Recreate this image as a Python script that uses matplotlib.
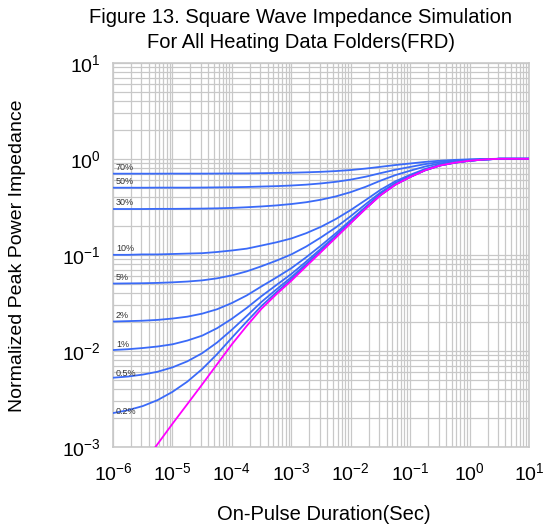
"""
Square wave impedance curves (duty-cycle family + single pulse), log-log.
Values read off the reference figure at quarter-decade steps.
"""

import matplotlib
matplotlib.use("Agg")
import matplotlib.pyplot as plt

plt.rcParams["font.family"] = ["Liberation Sans", "DejaVu Sans"]
plt.rcParams["mathtext.default"] = "regular"

# on-pulse duration (s), quarter-decade steps
t_sec = [1e-6, 1.78e-6, 3.16e-6, 5.62e-6,
         1e-5, 1.78e-5, 3.16e-5, 5.62e-5,
         1e-4, 1.78e-4, 3.16e-4, 5.62e-4,
         1e-3, 1.78e-3, 3.16e-3, 5.62e-3,
         1e-2, 1.78e-2, 3.16e-2, 5.62e-2,
         1e-1, 1.78e-1, 3.16e-1, 5.62e-1,
         1.0, 1.78, 3.16, 5.62, 10.0]

duty_labels = ["70%", "50%", "30%", "10%", "5%", "2%", "1%", "0.5%", "0.2%"]
duty_levels = [0.7, 0.5, 0.3, 0.1, 0.05, 0.02, 0.01, 0.005, 0.002]

z_70 = [0.700, 0.700, 0.700, 0.700, 0.701, 0.701, 0.701, 0.702, 0.704, 0.705,
        0.708, 0.712, 0.716, 0.723, 0.732, 0.745, 0.764, 0.791, 0.825, 0.861,
        0.894, 0.928, 0.955, 0.974, 0.987, 0.995, 1.0, 1.0, 1.0]
z_50 = [0.500, 0.500, 0.500, 0.501, 0.501, 0.501, 0.502, 0.504, 0.506, 0.509,
        0.514, 0.519, 0.527, 0.538, 0.554, 0.576, 0.607, 0.651, 0.709, 0.769,
        0.823, 0.880, 0.926, 0.956, 0.978, 0.992, 1.0, 1.0, 1.0]
z_30 = [0.300, 0.300, 0.300, 0.301, 0.301, 0.302, 0.303, 0.305, 0.308, 0.313,
        0.319, 0.327, 0.338, 0.353, 0.375, 0.406, 0.450, 0.511, 0.592, 0.676,
        0.752, 0.831, 0.896, 0.938, 0.969, 0.989, 1.0, 1.0, 1.0]
z_10 = [0.100, 0.100, 0.101, 0.101, 0.102, 0.103, 0.104, 0.107, 0.111, 0.116,
        0.125, 0.135, 0.148, 0.168, 0.196, 0.236, 0.293, 0.372, 0.475, 0.583,
        0.681, 0.783, 0.866, 0.921, 0.960, 0.986, 1.0, 1.0, 1.0]
z_5 = [0.0502, 0.0504, 0.0506, 0.0510, 0.0517, 0.0527, 0.0542, 0.0569, 0.0611, 0.0673,
       0.0761, 0.0870, 0.101, 0.122, 0.152, 0.193, 0.253, 0.337, 0.446, 0.560,
       0.664, 0.771, 0.858, 0.916, 0.957, 0.985, 1.0, 1.0, 1.0]
z_2 = [0.0202, 0.0204, 0.0206, 0.0210, 0.0217, 0.0227, 0.0244, 0.0271, 0.0315, 0.0378,
       0.0470, 0.0581, 0.0726, 0.0944, 0.125, 0.168, 0.230, 0.316, 0.429, 0.546,
       0.653, 0.764, 0.854, 0.914, 0.956, 0.984, 1.0, 1.0, 1.0]
z_1 = [0.0102, 0.0104, 0.0107, 0.0111, 0.0117, 0.0128, 0.0144, 0.0172, 0.0216, 0.0280,
       0.0372, 0.0485, 0.0632, 0.0851, 0.116, 0.159, 0.222, 0.309, 0.423, 0.542,
       0.650, 0.761, 0.852, 0.913, 0.955, 0.984, 1.0, 1.0, 1.0]
z_05 = [0.00525, 0.00540, 0.00566, 0.00606, 0.00673, 0.00778, 0.00945, 0.0122, 0.0166, 0.0231,
        0.0324, 0.0437, 0.0584, 0.0805, 0.111, 0.155, 0.218, 0.305, 0.420, 0.539,
        0.648, 0.760, 0.852, 0.912, 0.955, 0.984, 1.0, 1.0, 1.0]
z_02 = [0.00225, 0.00241, 0.00266, 0.00307, 0.00374, 0.00478, 0.00646, 0.00923, 0.0137, 0.0202,
        0.0294, 0.0408, 0.0556, 0.0777, 0.109, 0.153, 0.216, 0.303, 0.418, 0.538,
        0.647, 0.759, 0.851, 0.912, 0.955, 0.984, 1.0, 1.0, 1.0]
z_single = [0.000251, 0.000407, 0.000661, 0.00107, 0.00174, 0.00279, 0.00447, 0.00724, 0.0117, 0.0182,
            0.0275, 0.0389, 0.0537, 0.0759, 0.107, 0.151, 0.214, 0.302, 0.417, 0.537,
            0.646, 0.759, 0.851, 0.912, 0.955, 0.984, 1.0, 1.0, 1.0]

duty_curves = [z_70, z_50, z_30, z_10, z_5, z_2, z_1, z_05, z_02]

BLUE = "#3a6af8"
MAGENTA = "#ff00ff"
GRID = "#c8c8c8"

fig = plt.figure(figsize=(5.46, 5.32), dpi=100)
ax = fig.add_axes([0.207, 0.160, 0.762, 0.722])

for curve in duty_curves:
    ax.plot(t_sec, curve, color=BLUE, lw=1.3, zorder=3)
ax.plot(t_sec, z_single, color=MAGENTA, lw=1.3, zorder=4)

for lab, lvl in zip(duty_labels, duty_levels):
    ax.text(1.12e-6, lvl * 1.16, lab, fontsize=6.5, color="#333333",
            ha="left", va="center", zorder=5)

ax.set_xscale("log")
ax.set_yscale("log")
ax.set_xlim(1e-6, 1e1)
ax.set_ylim(1e-3, 1e1)

ax.grid(True, which="both", color=GRID, lw=0.9)
ax.set_axisbelow(True)
for sp in ax.spines.values():
    sp.set_color(GRID)
    sp.set_linewidth(1.2)
ax.tick_params(which="both", length=0, labelsize=14)
ax.tick_params(axis="x", pad=11)
ax.tick_params(axis="y", pad=9)

fig.text(0.551, 0.967, "Figure 13. Square Wave Impedance Simulation",
         ha="center", va="center", fontsize=14.5)
fig.text(0.551, 0.921, "For All Heating Data Folders(FRD)",
         ha="center", va="center", fontsize=14.5)
fig.text(0.593, 0.032, "On-Pulse Duration(Sec)", ha="center", va="center", fontsize=14.5)
fig.text(0.032, 0.52, "Normalized Peak Power Impedance", ha="center", va="center",
         rotation=90, fontsize=14)

fig.savefig("out.png", dpi=100)
